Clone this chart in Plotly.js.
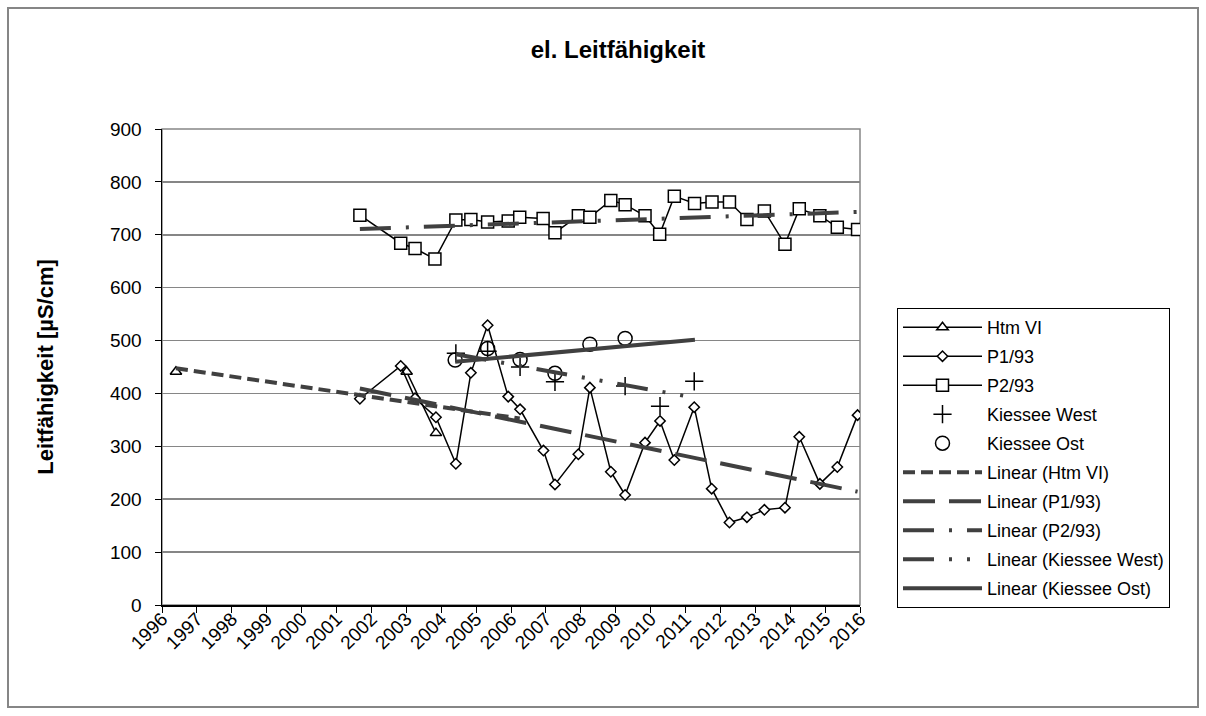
<!DOCTYPE html>
<html><head><meta charset="utf-8">
<script src="https://cdn.plot.ly/plotly-3.0.1.min.js"></script>
<style>html,body{margin:0;padding:0;background:#fff}#chart{width:1206px;height:716px}</style>
</head><body><div id="chart"></div>
<script>
// ---- data (decimal years, µS/cm) ----
const htmDates = [1996.40, null, 2003.01, 2003.85];
const htmValues = [441, null, 441, 325];

const p1Dates = [2001.67, 2002.84, 2003.25, 2003.85, 2004.42, 2004.85, 2005.33, 2005.92, 2006.26, 2006.93,
  2007.26, 2007.93, 2008.26, 2008.86, 2009.27, 2009.84, 2010.27, 2010.68, 2011.25, 2011.75,
  2012.26, 2012.76, 2013.26, 2013.85, 2014.26, 2014.85, 2015.35, 2015.93];
const p1Values = [390, 452, 391, 355, 267, 439, 529, 394, 370, 292,
  228, 285, 411, 252, 208, 307, 348, 274, 374, 220,
  156, 166, 180, 184, 318, 229, 261, 359];

const p2Dates = [2001.67, 2002.84, 2003.25, 2003.82, 2004.42, 2004.85, 2005.33, 2005.92, 2006.25, 2006.92,
  2007.26, 2007.93, 2008.26, 2008.86, 2009.27, 2009.84, 2010.26, 2010.68, 2011.26, 2011.76,
  2012.26, 2012.76, 2013.26, 2013.85, 2014.26, 2014.85, 2015.35, 2015.93];
const p2Values = [737, 684, 674, 654, 728, 729, 724, 726, 733, 731,
  704, 736, 733, 765, 757, 736, 701, 773, 759, 762,
  762, 729, 745, 682, 749, 736, 714, 710];

const westDates = [2004.42, 2005.33, 2006.26, 2007.26, 2009.27, 2010.27, 2011.25];
const westValues = [476, 480, 450, 422, 414, 376, 423];

const ostDates = [2004.40, 2005.33, 2006.26, 2007.26, 2008.26, 2009.27];
const ostValues = [463, 485, 464, 438, 493, 504];

// trendline forward forecast (years)
const forecastYears = {htm: 2.4, p1: 0, p2: 0, west: 0, ost: 2.0};

const yearTicks = [1996,1997,1998,1999,2000,2001,2002,2003,2004,2005,2006,2007,2008,2009,2010,2011,2012,2013,2014,2015,2016];

// ---- helpers ----
function linTrend(xs, ys, forward) {
  const px = [], py = [];
  for (let i = 0; i < xs.length; i++) if (xs[i] != null && ys[i] != null) { px.push(xs[i]); py.push(ys[i]); }
  const n = px.length;
  const mx = px.reduce((a,b)=>a+b,0)/n, my = py.reduce((a,b)=>a+b,0)/n;
  let sxy = 0, sxx = 0;
  for (let i = 0; i < n; i++) { sxy += (px[i]-mx)*(py[i]-my); sxx += (px[i]-mx)*(px[i]-mx); }
  const b = sxy/sxx, a = my - b*mx;
  const x0 = Math.min(...px), x1 = Math.max(...px) + forward;
  return {x: [x0, x1], y: [a + b*x0, a + b*x1]};
}

const FONT = 'Liberation Sans, Arial, sans-serif';
const TREND = '#404040';
let g = 0;
function series(name, x, y, symbol, size, mode) {
  return {type: 'scatter', mode: mode, name: name, x: x, y: y, legendgroup: 'g' + (g++),
    line: {color: '#000', width: 1.5},
    marker: {symbol: symbol, size: size, color: '#fff', line: {color: '#000', width: 1.5}},
    connectgaps: false};
}
function trendTrace(name, x, y, fwd, dash) {
  const t = linTrend(x, y, fwd);
  return {type: 'scatter', mode: 'lines', name: name, x: t.x, y: t.y, legendgroup: 'g' + (g++),
    line: {color: TREND, width: 4, dash: dash}};
}

const traces = [
  series('Htm VI', htmDates, htmValues, 'triangle-up', 10, 'lines+markers'),
  series('P1/93', p1Dates, p1Values, 'diamond', 8, 'lines+markers'),
  series('P2/93', p2Dates, p2Values, 'square', 12, 'lines+markers'),
  {type: 'scatter', mode: 'markers', name: 'Kiessee West', x: westDates, y: westValues, legendgroup: 'g' + (g++),
    marker: {symbol: 'cross-thin-open', size: 13, color: '#000', line: {color: '#000', width: 1.5}}},
  {type: 'scatter', mode: 'markers', name: 'Kiessee Ost', x: ostDates, y: ostValues, legendgroup: 'g' + (g++),
    marker: {symbol: 'circle-open', size: 14, color: '#000', line: {color: '#000', width: 1.5}}},
  trendTrace('Linear (Htm VI)', htmDates, htmValues, forecastYears.htm, '12px,6px'),
  trendTrace('Linear (P1/93)', p1Dates, p1Values, forecastYears.p1, '32px,14px'),
  trendTrace('Linear (P2/93)', p2Dates, p2Values, forecastYears.p2, '31px,15px,3px,15px'),
  trendTrace('Linear (Kiessee West)', westDates, westValues, forecastYears.west, '31px,15px,3px,15px,3px,15px'),
  trendTrace('Linear (Kiessee Ost)', ostDates, ostValues, forecastYears.ost, 'solid')
];

const L = 162, R = 346, T = 129, B = 111, W = 1206, H = 716;
const pw = W - L - R, ph = H - T - B;
const px = v => (v - L) / pw, py = v => (H - B - v) / ph;

const layout = {
  width: W, height: H,
  margin: {l: L, r: R, t: T, b: B},
  paper_bgcolor: '#fff', plot_bgcolor: '#fff',
  font: {family: FONT, size: 18, color: '#000'},
  title: {text: '<b>el. Leitfähigkeit</b>', font: {family: FONT, size: 24, color: '#000'},
    x: 618 / W, xanchor: 'center', y: 1 - 50 / H, yanchor: 'middle'},
  xaxis: {range: [1996, 2016], tickmode: 'array', tickvals: yearTicks, ticktext: yearTicks.map(String),
    tickangle: -45, ticks: 'outside', ticklen: 6, tickcolor: '#000', tickwidth: 1,
    ticklabelstandoff: -12,
    showgrid: false, zeroline: false, showline: true, linecolor: '#000', linewidth: 1.5,
    tickfont: {family: FONT, size: 19, color: '#000'}},
  yaxis: {range: [0, 900], dtick: 100, tick0: 0, ticks: 'outside', ticklen: 6, tickcolor: '#000', tickwidth: 1,
    ticklabelstandoff: 9,
    showgrid: true, gridcolor: '#868686', gridwidth: 1.5, zeroline: false,
    showline: true, linecolor: '#000', linewidth: 1.5,
    tickfont: {family: FONT, size: 19, color: '#000'},
    title: {text: '<b>Leitfähigkeit [µS/cm]</b>', font: {family: FONT, size: 22, color: '#000'}, standoff: 50}},
  showlegend: true,
  legend: {x: px(897), y: py(308), xanchor: 'left', yanchor: 'top',
    bgcolor: '#fff', bordercolor: '#000', borderwidth: 1,
    font: {family: FONT, size: 18, color: '#000'},
    itemwidth: 79, itemsizing: 'trace', traceorder: 'grouped', tracegroupgap: 2.6},
  shapes: [
    {type: 'rect', xref: 'paper', yref: 'paper', x0: 0, x1: 1, y0: 0, y1: 1,
      line: {color: '#868686', width: 1.5}, layer: 'below'},
    {type: 'rect', xref: 'paper', yref: 'paper', x0: px(8), x1: px(1198), y0: py(707), y1: py(8),
      line: {color: '#868686', width: 2}, layer: 'below'}
  ]
};

Plotly.newPlot('chart', traces, layout, {displayModeBar: false, staticPlot: true});
</script>
</body></html>
